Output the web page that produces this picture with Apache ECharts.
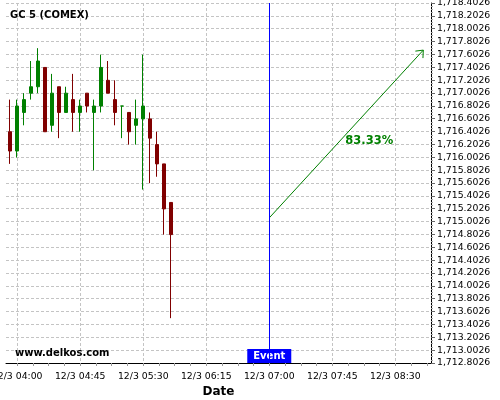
<!DOCTYPE html>
<html>
<head>
<meta charset="utf-8">
<script src="https://cdn.jsdelivr.net/npm/echarts@6/dist/echarts.min.js"></script>
<style>
  html, body { margin: 0; padding: 0; background: #fff; }
  #chart { width: 500px; height: 400px; }
</style>
</head>
<body>
<div id="chart"></div>
<script>
// GC 5 (COMEX), 5 minute candles on 12/3
const times  = ['03:55', '04:00', '04:05', '04:10', '04:15', '04:20', '04:25', '04:30',
                '04:35', '04:40', '04:45', '04:50', '04:55', '05:00', '05:05', '05:10',
                '05:15', '05:20', '05:25', '05:30', '05:35', '05:40', '05:45', '05:50'];
const opens  = [1716.4, 1716.1, 1716.7, 1717.0, 1717.1, 1717.4, 1716.5, 1717.1,
                1716.7, 1716.9, 1716.7, 1717.0, 1716.7, 1716.8, 1717.2, 1716.9,
                1716.8, 1716.7, 1716.5, 1716.6, 1716.6, 1716.2, 1715.9, 1715.3];
const closes = [1716.1, 1716.8, 1716.9, 1717.1, 1717.5, 1716.4, 1717.0, 1716.7,
                1717.0, 1716.7, 1716.8, 1716.8, 1716.8, 1717.4, 1717.0, 1716.7,
                1716.8, 1716.4, 1716.6, 1716.8, 1716.3, 1715.9, 1715.2, 1714.8];
const lows   = [1715.9, 1716.0, 1716.5, 1716.9, 1717.0, 1716.4, 1716.4, 1716.3,
                1716.7, 1716.4, 1716.4, 1716.7, 1715.8, 1716.7, 1717.0, 1716.5,
                1716.3, 1716.2, 1716.2, 1715.5, 1715.6, 1715.7, 1714.8, 1713.5];
const highs  = [1716.9, 1716.9, 1717.0, 1717.5, 1717.7, 1717.4, 1717.3, 1717.1,
                1717.1, 1717.3, 1716.9, 1717.0, 1716.9, 1717.6, 1717.5, 1717.2,
                1716.8, 1716.7, 1716.9, 1717.6, 1716.7, 1716.4, 1715.9, 1715.3];

const xTickLabels = ['04:00', '04:45', '05:30', '06:15', '07:00', '07:45', '08:30'];
const eventTime = '07:00';
const forecastFrom = ['07:00', 1715.06];
const forecastTo = ['08:50', 1717.67];
const forecastText = '83.33%';

const yMinPrice = 1712.8026;
const yMaxPrice = 1718.4026;
const yStep = 0.2;
const xMin = 232;     // 03:52
const xMax = 535.5;   // ~08:55

const FONT = 'DejaVu Sans';

function toMin(t) {
  const [h, m] = t.split(':').map(Number);
  return h * 60 + m;
}
function fmtTime(v) {
  const h = Math.floor(v / 60), m = Math.round(v % 60);
  return '12/3 ' + String(h).padStart(2, '0') + ':' + String(m).padStart(2, '0');
}
// y axis works in offsets from the lowest label so ticks start on 1,712.8026
const off = p => p - yMinPrice;

const candleData = times.map((t, i) => [toMin(t), off(opens[i]), off(closes[i]), off(lows[i]), off(highs[i])]);
const majorTicks = xTickLabels.map(toMin);
const minorTicks = [];
for (let v = majorTicks[0]; v <= xMax; v += 45 / 4) minorTicks.push(v);

const chart = echarts.init(document.getElementById('chart'));

const option = {
  animation: false,
  backgroundColor: '#fff',
  grid: { left: 6, right: 69, top: 3, bottom: 37, containLabel: false, outerBoundsMode: 'none' },
  xAxis: [
    {
      type: 'value',
      min: xMin,
      max: xMax,
      position: 'bottom',
      axisLine: { show: true, onZero: false, lineStyle: { color: '#000', width: 1 } },
      axisTick: { show: false, customValues: majorTicks },
      axisLabel: {
        customValues: majorTicks,
        formatter: fmtTime,
        fontFamily: FONT, fontSize: 9.3, color: '#000', margin: 9
      },
      splitLine: { show: true, lineStyle: { color: '#c4c4c4', type: [3, 2] } },
      name: 'Date',
      nameLocation: 'middle',
      nameGap: 21,
      nameTextStyle: { fontFamily: FONT, fontSize: 12, fontWeight: 'bold', color: '#000' }
    },
    {
      type: 'value',
      min: xMin,
      max: xMax,
      position: 'bottom',
      axisLine: { show: false, onZero: false },
      axisTick: { show: true, customValues: minorTicks, length: 3, lineStyle: { color: '#999' } },
      axisLabel: { show: false },
      splitLine: { show: false }
    }
  ],
  yAxis: {
    type: 'value',
    position: 'right',
    min: 0,
    max: Math.round(off(yMaxPrice) * 1e4) / 1e4,
    interval: yStep,
    axisLine: { show: true, onZero: false, lineStyle: { color: '#000', width: 1 } },
    axisTick: { show: true, length: 4, lineStyle: { color: '#666' } },
    minorTick: { show: true, splitNumber: 4, length: 2, lineStyle: { color: '#aaa' } },
    axisLabel: {
      fontFamily: FONT, fontSize: 9.3, color: '#000', margin: 6,
      formatter: v => (v + yMinPrice).toLocaleString('en-US', { minimumFractionDigits: 4, maximumFractionDigits: 4 })
    },
    splitLine: { show: true, lineStyle: { color: '#c4c4c4', type: [3, 2] } }
  },
  series: [
    {
      type: 'candlestick',
      xAxisIndex: 0,
      data: candleData,
      encode: { x: 0, y: [1, 2, 3, 4] },
      barWidth: 4,
      itemStyle: {
        color: '#008000', color0: '#800000',
        borderColor: '#008000', borderColor0: '#800000', borderColorDoji: '#008000',
        borderWidth: 1
      },
      markLine: {
        silent: true,
        symbol: 'none',
        label: { show: false },
        lineStyle: { color: '#0000ff', width: 1, type: 'solid', opacity: 1 },
        emphasis: { disabled: true },
        data: [{ xAxis: toMin(eventTime) }]
      }
    },
    {
      type: 'custom',
      xAxisIndex: 0,
      data: [[toMin(forecastFrom[0]), off(forecastFrom[1]), toMin(forecastTo[0]), off(forecastTo[1])]],
      encode: { x: [0, 2], y: [1, 3] },
      renderItem: (params, api) => {
        const p0 = api.coord([api.value(0), api.value(1)]);
        const p1 = api.coord([api.value(2), api.value(3)]);
        const ang = Math.atan2(p1[1] - p0[1], p1[0] - p0[0]);
        const len = 8, a = Math.PI / 4.5;
        const h1 = [p1[0] - len * Math.cos(ang - a), p1[1] - len * Math.sin(ang - a)];
        const h2 = [p1[0] - len * Math.cos(ang + a), p1[1] - len * Math.sin(ang + a)];
        const mid = [(p0[0] + p1[0]) / 2, (p0[1] + p1[1]) / 2];
        return {
          type: 'group',
          children: [
            { type: 'line', shape: { x1: p0[0], y1: p0[1], x2: p1[0], y2: p1[1] },
              style: { stroke: '#008000', lineWidth: 1 } },
            { type: 'polyline', shape: { points: [h1, p1, h2] },
              style: { stroke: '#008000', fill: 'none', lineWidth: 1 } },
            { type: 'text', x: mid[0] - 1, y: mid[1] + 7,
              style: { text: forecastText, fill: '#008000', font: 'bold 11.5px ' + FONT,
                       align: 'left', verticalAlign: 'middle' } }
          ]
        };
      }
    }
  ]
};

chart.setOption(option);

// title, watermark and the event tag
const ev = chart.convertToPixel({ gridIndex: 0 }, [toMin(eventTime), 0]);
chart.setOption({
  graphic: [
    { type: 'text', left: 10, top: 10,
      style: { text: 'GC 5 (COMEX)', fill: '#000', font: 'bold 10px ' + FONT } },
    { type: 'text', left: 15, top: 348,
      style: { text: 'www.delkos.com', fill: '#000', font: 'bold 10px ' + FONT } },
    { type: 'rect', shape: { x: ev[0] - 22, y: ev[1] - 14, width: 44, height: 14 },
      style: { fill: '#0000ff' } },
    { type: 'text', x: ev[0], y: ev[1] - 7,
      style: { text: 'Event', fill: '#fff', font: 'bold 10px ' + FONT, align: 'center', verticalAlign: 'middle' } }
  ]
});
</script>
</body>
</html>
